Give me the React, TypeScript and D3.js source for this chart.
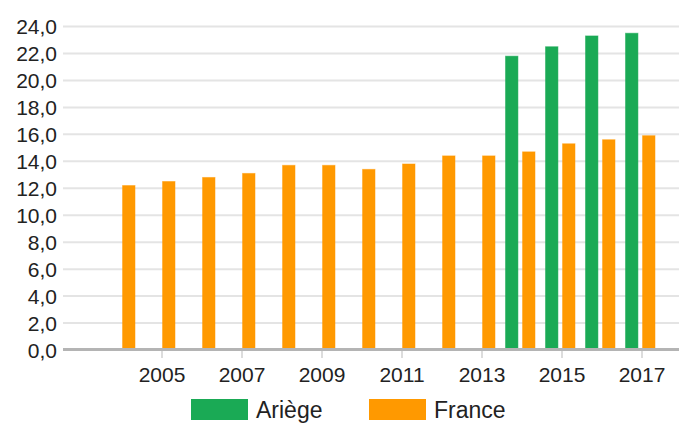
import React from "react";
import * as d3 from "d3";

const years = [2004, 2005, 2006, 2007, 2008, 2009, 2010, 2011, 2012, 2013, 2014, 2015, 2016, 2017];
const franceValues = [12.2, 12.5, 12.8, 13.1, 13.7, 13.7, 13.4, 13.8, 14.4, 14.4, 14.7, 15.3, 15.6, 15.9];
const ariegeYears = [2014, 2015, 2016, 2017];
const ariegeValues = [21.8, 22.5, 23.3, 23.5];
const seriesNames = ["Ariège", "France"];
const seriesColors = ["#1aaa55", "#ff9900"];
const yTicks = [0, 2, 4, 6, 8, 10, 12, 14, 16, 18, 20, 22, 24];
const xTickYears = [2005, 2007, 2009, 2011, 2013, 2015, 2017];

const W = 679;
const H = 424;
const plotLeft = 63;
const plotRight = 679;
const FONT = "'Liberation Sans', Arial, sans-serif";

export default function App() {
  const x = d3.scaleBand<number>().domain(years).range([102, 662]).padding(0);
  const x1 = d3.scaleBand<string>().domain(seriesNames).range([-16.5, 13]).paddingInner(0.27);
  const y = d3.scaleLinear().domain([0, 24]).range([350, 26.5]);
  const fmt = (v: number) => d3.format(".1f")(v).replace(".", ",");
  const center = (yr: number) => (x(yr) as number) + x.bandwidth() / 2;

  const france = years.map((yr, i) => ({ yr, v: franceValues[i] }));
  const ariege = ariegeYears.map((yr, i) => ({ yr, v: ariegeValues[i] }));

  return (
    <svg width={W} height={H} style={{ position: "absolute", left: 0, top: 0, background: "#fff" }} fontFamily={FONT}>
      {yTicks.filter((t) => t > 0).map((t) => (
        <line key={t} x1={plotLeft} x2={plotRight} y1={y(t)} y2={y(t)} stroke="#e4e4e4" strokeWidth={2} />
      ))}
      {yTicks.map((t) => (
        <text key={t} x={57} y={y(t)} dy="0.36em" textAnchor="end" fontSize={21} fill="#222">
          {fmt(t)}
        </text>
      ))}
      {xTickYears.map((yr) => (
        <g key={yr}>
          <line x1={center(yr)} x2={center(yr)} y1={350} y2={358} stroke="#dcdcdc" strokeWidth={2} />
          <text x={center(yr)} y={382} textAnchor="middle" fontSize={21} fill="#222">
            {yr}
          </text>
        </g>
      ))}
      {ariege.map((d) => (
        <rect
          key={"a" + d.yr}
          x={center(d.yr) + (x1("Ariège") as number)}
          width={x1.bandwidth()}
          y={y(d.v)}
          height={y(0) - y(d.v)}
          fill={seriesColors[0]}
          stroke={seriesColors[0]}
          strokeOpacity={0.5}
          strokeWidth={1}
        />
      ))}
      {france.map((d) => (
        <rect
          key={"f" + d.yr}
          x={center(d.yr) + (x1("France") as number)}
          width={x1.bandwidth()}
          y={y(d.v)}
          height={y(0) - y(d.v)}
          fill={seriesColors[1]}
          stroke={seriesColors[1]}
          strokeOpacity={0.5}
          strokeWidth={1}
        />
      ))}
      <line x1={plotLeft} x2={plotRight} y1={349.5} y2={349.5} stroke="#b4b4b4" strokeWidth={3} />
      <g>
        <rect x={191} y={399} width={57} height={21} fill={seriesColors[0]} />
        <text x={256} y={418} fontSize={23} fill="#222">{seriesNames[0]}</text>
        <rect x={369} y={399} width={57} height={21} fill={seriesColors[1]} />
        <text x={434} y={418} fontSize={23} fill="#222">{seriesNames[1]}</text>
      </g>
    </svg>
  );
}
